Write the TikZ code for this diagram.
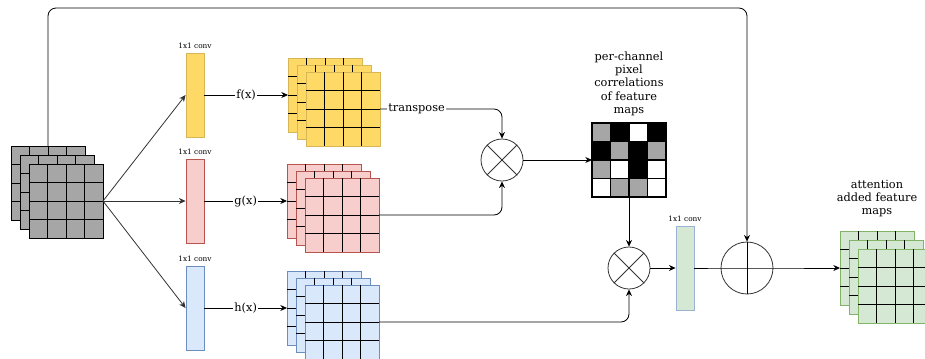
\documentclass[tikz,border=0pt]{standalone}
\usepackage{fontspec}
\setmainfont{DejaVu Serif}
\usepackage{xcolor}
\usepackage{tikz}
\usetikzlibrary{arrows.meta, positioning, calc}

\definecolor{mgray}{HTML}{A6A6A6}
\definecolor{fyellow}{HTML}{FFD966}
\definecolor{fyellowd}{HTML}{D6B656}
\definecolor{gpink}{HTML}{F8CECC}
\definecolor{gpinkd}{HTML}{B85450}
\definecolor{hblue}{HTML}{DAE8FC}
\definecolor{hblued}{HTML}{6C8EBF}
\definecolor{ogreen}{HTML}{D5E8D4}
\definecolor{ogreend}{HTML}{82B366}
\definecolor{oconvd}{HTML}{9AB3D5}

% inner 4x4 lines of a square node
\newcommand{\gridlines}[1]{%
  \foreach \i in {1,2,3} {
    \draw ($(#1.north west)!\i/4!(#1.north east)$) -- ($(#1.south west)!\i/4!(#1.south east)$);
    \draw ($(#1.north west)!\i/4!(#1.south west)$) -- ($(#1.north east)!\i/4!(#1.south east)$);
  }%
}
% stack of three feature maps: name, x, y, fill, border, dy
\newcommand{\mapstack}[6]{%
  \foreach \k in {0,1,2} {
    \node[cellgrid, fill=#4, draw=#5, anchor=north west] (#1\k) at ({#2+9*\k},{#3+#6*\k}) {};
    \gridlines{#1\k}
  }%
}

\begin{document}
\begin{tikzpicture}[
    x=0.75pt, y=-0.75pt,
    line width=0.6pt,
    >={Stealth[length=5pt, width=4.5pt]},
    cellgrid/.style={rectangle, minimum size=55.5pt, inner sep=0pt, outer sep=0pt},
    conv/.style={rectangle, minimum width=13.5pt, minimum height=63pt, inner sep=0pt},
    opnode/.style={circle, draw=black!80, minimum size=31.5pt, inner sep=0pt},
    addnode/.style={circle, draw=black!80, minimum size=39pt, inner sep=0pt},
    lbl/.style={font=\fontsize{8.5}{10}\selectfont, align=center, inner sep=1pt},
    tiny/.style={font=\fontsize{5.5}{6.5}\selectfont, inner sep=1pt}
]
\useasboundingbox (0,0) rectangle (925,358);

% feature map stacks
\mapstack{in}{11}{146}{mgray}{black}{9}
\mapstack{fmap}{288}{58}{fyellow}{fyellowd}{7}
\mapstack{gmap}{287}{164}{gpink}{gpinkd}{7}
\mapstack{hmap}{287}{271}{hblue}{hblued}{7}
\mapstack{omap}{840}{231}{ogreen}{ogreend}{9}

% 1x1 convs
\node[conv, fill=fyellow, draw=fyellowd] (fconv) at (195,95) {};
\node[conv, fill=gpink, draw=gpinkd] (gconv) at (195,201) {};
\node[conv, fill=hblue, draw=hblued] (hconv) at (195,308) {};
\node[conv, fill=ogreen, draw=oconvd] (oconv) at (685,268) {};
\foreach \c in {fconv, gconv, hconv, oconv}
  \node[tiny, above=2pt of \c] (\c lbl) {1x1 conv};

% operations
\node[opnode] (mul1) at (502,160) {};
\draw[black!80] (mul1.45) -- (mul1.225) (mul1.135) -- (mul1.315);
\node[opnode] (mul2) at (629,268) {};
\draw[black!80] (mul2.45) -- (mul2.225) (mul2.135) -- (mul2.315);
\node[addnode] (plus) at (747,268) {};
\draw (plus.north) -- (plus.south);

% correlation matrix
\node[cellgrid, anchor=north west] (corr) at (592,123) {};
\foreach \r/\row in {0/{mgray,black,white,black}, 1/{black,mgray,black,mgray},
                     2/{mgray,white,black,white}, 3/{white,mgray,mgray,white}} {
  \foreach \c [count=\col from 0] in \row
    \fill[\c] ($(corr.north west)+(\col*18.5,\r*18.5)$) rectangle ++(18.5,18.5);
}
\begin{scope}[line width=0.9pt]
  \gridlines{corr}
  \draw (corr.north west) rectangle (corr.south east);
\end{scope}
\node[lbl, above=4pt of corr] (corrlbl) {per-channel\\pixel\\correlations\\of feature\\maps};
\node[lbl, above=9pt of omap0] (omaplbl) {attention\\added feature\\maps};

% connections
\coordinate (skip) at (400,8);
\draw[->, rounded corners=6pt] (in0.north) -- (in0.north |- skip) -| (plus.north);
\draw[->, black!80] (in2.east) -- (fconv.west);
\draw[->, black!80] (in2.east) -- (gconv.west);
\draw[->, black!80] (in2.east) -- (hconv.west);
\draw[->] (fconv.east) -- node[lbl, fill=white] {f(x)} (fmap0.west);
\draw[->] (gconv.east) -- node[lbl, fill=white] {g(x)} (gmap0.west);
\draw[->] (hconv.east) -- node[lbl, fill=white] {h(x)} (hmap0.west);
\draw[->, rounded corners=6pt] (fmap2.east) -- node[lbl, fill=white, pos=0.3] {transpose} (fmap2.east -| mul1) -- (mul1.north);
\draw[->, rounded corners=6pt] (gmap2.east) -| (mul1.south);
\draw[->, rounded corners=6pt] (hmap2.east) -| (mul2.south);
\draw[->] (mul1.east) -- (corr.west);
\draw[->] (corr.south) -- (mul2.north);
\draw[->] (mul2.east) -- (oconv.west);
\draw[->] (oconv.east) -- (plus.west) -- (plus.east) -- (omap0.west);
\end{tikzpicture}
\end{document}
